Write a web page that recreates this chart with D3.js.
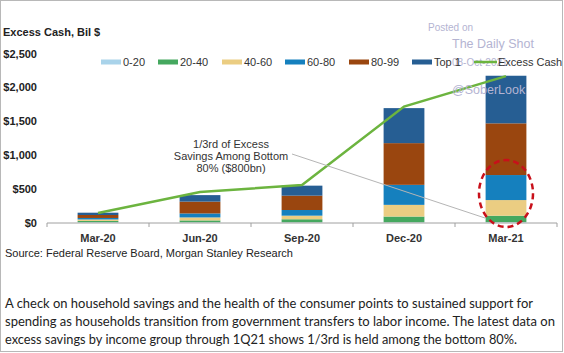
<!DOCTYPE html>
<html>
<head>
<meta charset="utf-8">
<script src="https://cdn.jsdelivr.net/npm/d3@7"></script>
<style>
  body { margin: 0; background: #fff; }
  svg { display: block; }
</style>
</head>
<body>
<script>
// data, $bn
const quarters = ["Mar-20", "Jun-20", "Sep-20", "Dec-20", "Mar-21"];
const inc0_20 = [3, 3, 3, 3, 5];
const inc20_40 = [20, 28, 45, 85, 95];
const inc40_60 = [22, 44, 53, 173, 232];
const inc60_80 = [22, 59, 84, 296, 370];
const inc80_99 = [44, 175, 212, 617, 765];
const top1 = [34, 96, 148, 518, 704];
const excessCash = [140, 450, 555, 1715, 2165];
const yTicks = [0, 500, 1000, 1500, 2000, 2500];

const groups = ["0-20", "20-40", "40-60", "60-80", "80-99", "Top 1"];
const colors = ["#a9d3ea", "#45a85f", "#ebcd82", "#1580be", "#9a460f", "#265e93"];
const seriesVals = [inc0_20, inc20_40, inc40_60, inc60_80, inc80_99, top1];

let width = 564, height = 353;
let marginLeft = 47, plotRight = 557, y0 = 222.5, yTop = 53.5;

let svg = d3.select("body").append("svg")
    .attr("width", width)
    .attr("height", height)
    .attr("viewBox", [0, 0, width, height])
    .style("font-family", "'Liberation Sans', Arial, sans-serif");

// outer frame
svg.append("rect")
    .attr("x", 0.5).attr("y", 0.5)
    .attr("width", width - 2).attr("height", height - 2)
    .attr("fill", "none")
    .attr("stroke", "#b8b8b8");

let x = d3.scaleBand()
    .domain(quarters)
    .range([marginLeft, plotRight])
    .paddingInner(0.6)
    .paddingOuter(0.3);

let y = d3.scaleLinear()
    .domain([0, 2500])
    .range([y0, yTop]);

// stacked bars
let table = quarters.map((q, i) => {
  let row = { q };
  groups.forEach((g, j) => row[g] = seriesVals[j][i]);
  return row;
});
let stack = d3.stack().keys(groups)(table);

svg.append("g")
  .selectAll("g")
  .data(stack)
  .join("g")
    .attr("fill", (d, i) => colors[i])
  .selectAll("rect")
  .data(d => d)
  .join("rect")
    .attr("x", d => x(d.data.q))
    .attr("y", d => y(d[1]))
    .attr("width", x.bandwidth())
    .attr("height", d => y(d[0]) - y(d[1]));

// y labels
svg.append("g")
  .selectAll("text")
  .data(yTicks)
  .join("text")
    .attr("x", 37)
    .attr("y", d => y(d) + 4)
    .attr("text-anchor", "end")
    .attr("font-size", 11)
    .attr("font-weight", "bold")
    .attr("fill", "#222")
    .text(d => "$" + d3.format(",")(d));

// x axis
let step = x.step();
let bounds = d3.range(quarters.length + 1).map(i => marginLeft + i * step);
let xa = svg.append("g").attr("stroke", "#a0a0a0");
xa.append("line")
    .attr("x1", marginLeft).attr("x2", plotRight)
    .attr("y1", y0 + 0.5).attr("y2", y0 + 0.5);
xa.selectAll(".tk")
  .data(bounds)
  .join("line")
    .attr("x1", d => d).attr("x2", d => d)
    .attr("y1", y0 + 0.5).attr("y2", y0 + 4.5);

svg.append("g")
  .selectAll("text")
  .data(quarters)
  .join("text")
    .attr("x", d => x(d) + x.bandwidth() / 2)
    .attr("y", 242)
    .attr("text-anchor", "middle")
    .attr("font-size", 11)
    .attr("font-weight", "bold")
    .attr("fill", "#333")
    .text(d => d);

// excess cash line
let line = d3.line()
    .x((d, i) => x(quarters[i]) + x.bandwidth() / 2)
    .y(d => y(d));
svg.append("path")
    .datum(excessCash)
    .attr("d", line)
    .attr("fill", "none")
    .attr("stroke", "#6cb43f")
    .attr("stroke-width", 2.5);

// watermark
let wm = svg.append("g").attr("fill", "#b4b4d2");
wm.append("text").attr("x", 428).attr("y", 31).attr("font-size", 10).text("Posted on");
wm.append("text").attr("x", 452).attr("y", 48).attr("font-size", 12.5).text("The Daily Shot");
wm.append("text").attr("x", 452).attr("y", 66).attr("font-size", 10).text("08-Oct-2021");
wm.append("text").attr("x", 452).attr("y", 94).attr("font-size", 12.5).text("@SoberLook");

// title
svg.append("text")
    .attr("x", 3).attr("y", 36)
    .attr("font-size", 11)
    .attr("font-weight", "bold")
    .attr("fill", "#222")
    .text("Excess  Cash, Bil $");

// legend
const legendX = [101, 158, 222, 285, 349, 412];
let lg = svg.append("g").attr("font-size", 11).attr("fill", "#333");
groups.forEach((g, i) => {
  lg.append("rect")
      .attr("x", legendX[i]).attr("y", 59.5)
      .attr("width", 20).attr("height", 5)
      .attr("fill", colors[i]);
  lg.append("text")
      .attr("x", legendX[i] + 22).attr("y", 66)
      .text(g);
});
lg.append("line")
    .attr("x1", 474).attr("x2", 497)
    .attr("y1", 62).attr("y2", 62)
    .attr("stroke", "#6cb43f").attr("stroke-width", 2.5);
lg.append("text").attr("x", 498).attr("y", 66).text("Excess Cash");

// annotation
svg.append("line")
    .attr("x1", 292).attr("y1", 154)
    .attr("x2", 485).attr("y2", 218)
    .attr("stroke", "#b5b5b5").attr("stroke-width", 1);
let ann = svg.append("text")
    .attr("text-anchor", "middle")
    .attr("font-size", 11)
    .attr("fill", "#333");
["1/3rd of Excess", "Savings  Among Bottom", "80% ($800bn)"].forEach((t, i) => {
  ann.append("tspan").attr("x", 231).attr("y", 148 + i * 12).text(t);
});

// highlight ellipse
svg.append("ellipse")
    .attr("cx", x("Mar-21") + x.bandwidth() / 2)
    .attr("cy", 193.5)
    .attr("rx", 27).attr("ry", 33.5)
    .attr("fill", "none")
    .attr("stroke", "#c8101a")
    .attr("stroke-width", 2.5)
    .attr("stroke-dasharray", "6,4");

// source
svg.append("text")
    .attr("x", 5).attr("y", 257)
    .attr("font-size", 11)
    .attr("fill", "#222")
    .text("Source: Federal Reserve  Board, Morgan Stanley Research");

// caption
const caption = [
  "A check on household savings and the health of the consumer points to sustained support for",
  "spending as households transition from government transfers to labor income. The latest data on",
  "excess savings by income group through 1Q21 shows 1/3rd is held among the bottom 80%."
];
const captionWidth = [528, 550, 512];
svg.append("g")
  .selectAll("text")
  .data(caption)
  .join("text")
    .attr("x", 5)
    .attr("y", (d, i) => 308 + i * 18)
    .attr("font-family", "Lato, 'Open Sans', sans-serif")
    .attr("font-size", 13)
    .attr("textLength", (d, i) => captionWidth[i])
    .attr("lengthAdjust", "spacingAndGlyphs")
    .attr("fill", "#222")
    .text(d => d);
</script>
</body>
</html>
